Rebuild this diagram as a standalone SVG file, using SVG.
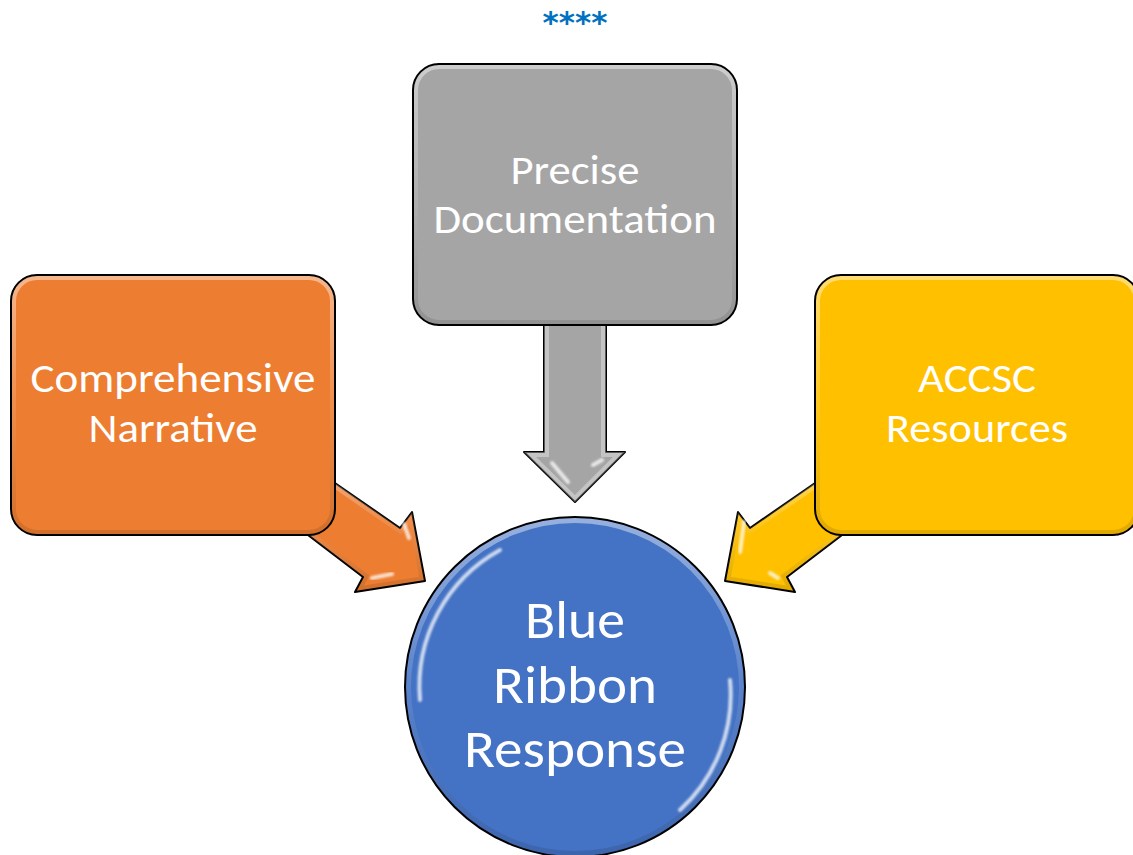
<svg xmlns="http://www.w3.org/2000/svg" width="1133" height="855" viewBox="0 0 1133 855">
  <style>
    .lbl { font-family: Carlito, "Open Sans", "Noto Sans", sans-serif; fill: #ffffff; text-anchor: middle; }
    .box { font-size: 41px; }
    .big { font-size: 53px; }
    .edge { stroke: #000000; stroke-width: 2; stroke-linejoin: round; }
    .shine { fill: none; stroke: #ffffff; stroke-linecap: round; stroke-width: 4; opacity: 0.75; filter: url(#soft); }
    .rim { fill: none; stroke: url(#bevel); stroke-width: 10; }
  </style>
  <defs>
    <filter id="soft" x="-50%" y="-50%" width="200%" height="200%">
      <feGaussianBlur stdDeviation="1.2"/>
    </filter>
    <linearGradient id="bevel" x1="0" y1="0" x2="0" y2="1">
      <stop offset="0" stop-color="#ffffff" stop-opacity="0.45"/>
      <stop offset="0.5" stop-color="#ffffff" stop-opacity="0.12"/>
      <stop offset="1" stop-color="#000000" stop-opacity="0.12"/>
    </linearGradient>
    <clipPath id="clipOrange"><rect x="11" y="275" width="324" height="260" rx="26"/></clipPath>
    <clipPath id="clipGray"><rect x="413" y="64" width="324" height="261" rx="26"/></clipPath>
    <clipPath id="clipYellow"><rect x="815" y="275" width="324" height="260" rx="26"/></clipPath>
    <clipPath id="clipCircle"><circle cx="575" cy="687" r="170"/></clipPath>
    <clipPath id="clipArrowL"><polygon points="290,452 400,528 412,512 425,581 355,592 363,577 270,506"/></clipPath>
    <clipPath id="clipArrowR"><polygon points="860,452 750,528 738,512 725,581 795,592 787,577 880,506"/></clipPath>
    <clipPath id="clipArrowD"><polygon points="544,300 606,300 606,452 625,452 575,502 524,452 544,452"/></clipPath>
  </defs>

  <rect width="1133" height="855" fill="#ffffff"/>

  <text x="575" y="33" font-family="'DejaVu Sans', sans-serif" font-weight="bold" font-size="31" fill="#0070C0" text-anchor="middle">****</text>

  <!-- connectors: block arrows feeding the central circle -->
  <g id="connectors">
    <g id="arrow-left">
      <polygon points="290,452 400,528 412,512 425,581 355,592 363,577 270,506" fill="#ED7D31" class="edge"/>
      <g clip-path="url(#clipArrowL)">
        <polygon points="290,452 400,528 412,512 425,581 355,592 363,577 270,506" class="rim" stroke-width="8"/>
      </g>
      <path d="M404,524 L409,538" class="shine" stroke-width="2.5"/>
      <path d="M372,578 L392,574" class="shine" stroke-width="2.5"/>
    </g>
    <g id="arrow-right">
      <polygon points="860,452 750,528 738,512 725,581 795,592 787,577 880,506" fill="#FFC000" class="edge"/>
      <g clip-path="url(#clipArrowR)">
        <polygon points="860,452 750,528 738,512 725,581 795,592 787,577 880,506" class="rim" stroke-width="8"/>
      </g>
      <path d="M744,522 L740,552" class="shine" stroke-width="2.5"/>
      <path d="M770,573 L778,578" class="shine" stroke-width="2.5"/>
    </g>
    <g id="arrow-down">
      <polygon points="544,300 606,300 606,452 625,452 575,502 524,452 544,452" fill="#A5A5A5" class="edge"/>
      <g clip-path="url(#clipArrowD)">
        <polygon points="544,300 606,300 606,452 625,452 575,502 524,452 544,452" fill="none" stroke="#ffffff" stroke-opacity="0.35" stroke-width="10"/>
      </g>
      <path d="M552,463 L568,482" class="shine" stroke-width="2.5"/>
      <path d="M593,465 L602,460" class="shine" stroke-width="2.5"/>
    </g>
  </g>

  <g id="node-narrative">
    <rect x="11" y="275" width="324" height="260" rx="26" fill="#ED7D31"/>
    <g clip-path="url(#clipOrange)">
      <rect x="11" y="275" width="324" height="260" rx="26" class="rim"/>
    </g>
    <rect x="11" y="275" width="324" height="260" rx="26" fill="none" class="edge"/>
    <path d="M24,296 L24,508" class="shine"/>
    <path d="M322,304 L322,516" class="shine"/>
    <text class="lbl box" x="173" y="392" textLength="285" lengthAdjust="spacingAndGlyphs">Comprehensive</text>
    <text class="lbl box" x="173" y="442" textLength="169" lengthAdjust="spacingAndGlyphs">Narrative</text>
  </g>

  <g id="node-documentation">
    <rect x="413" y="64" width="324" height="261" rx="26" fill="#A5A5A5"/>
    <g clip-path="url(#clipGray)">
      <rect x="413" y="64" width="324" height="261" rx="26" class="rim"/>
    </g>
    <rect x="413" y="64" width="324" height="261" rx="26" fill="none" class="edge"/>
    <path d="M426,85 L426,296" class="shine"/>
    <path d="M724,93 L724,305" class="shine"/>
    <text class="lbl box" x="575" y="184" textLength="129" lengthAdjust="spacingAndGlyphs">Precise</text>
    <text class="lbl box" x="575" y="233" textLength="283" lengthAdjust="spacingAndGlyphs">Documentation</text>
  </g>

  <g id="node-resources">
    <rect x="815" y="275" width="324" height="260" rx="26" fill="#FFC000"/>
    <g clip-path="url(#clipYellow)">
      <rect x="815" y="275" width="324" height="260" rx="26" class="rim"/>
    </g>
    <rect x="815" y="275" width="324" height="260" rx="26" fill="none" class="edge"/>
    <path d="M828,296 L828,508" class="shine"/>
    <path d="M1125,304 L1125,516" class="shine"/>
    <text class="lbl box" x="977" y="392" textLength="118" lengthAdjust="spacingAndGlyphs">ACCSC</text>
    <text class="lbl box" x="977" y="442" textLength="182" lengthAdjust="spacingAndGlyphs">Resources</text>
  </g>

  <g id="node-response">
    <circle cx="575" cy="687" r="170" fill="#4472C4"/>
    <g clip-path="url(#clipCircle)">
      <circle cx="575" cy="687" r="170" fill="none" stroke="url(#bevel)" stroke-width="12"/>
    </g>
    <circle cx="575" cy="687" r="170" fill="none" class="edge"/>
    <path d="M420,700 A156,156 0 0 1 500,550" class="shine" stroke-width="3"/>
    <path d="M730,680 A156,156 0 0 1 680,810" class="shine" stroke-width="3"/>
    <text class="lbl big" x="575" y="638" textLength="100" lengthAdjust="spacingAndGlyphs">Blue</text>
    <text class="lbl big" x="575" y="703" textLength="164" lengthAdjust="spacingAndGlyphs">Ribbon</text>
    <text class="lbl big" x="575" y="767" textLength="222" lengthAdjust="spacingAndGlyphs">Response</text>
  </g>
</svg>
